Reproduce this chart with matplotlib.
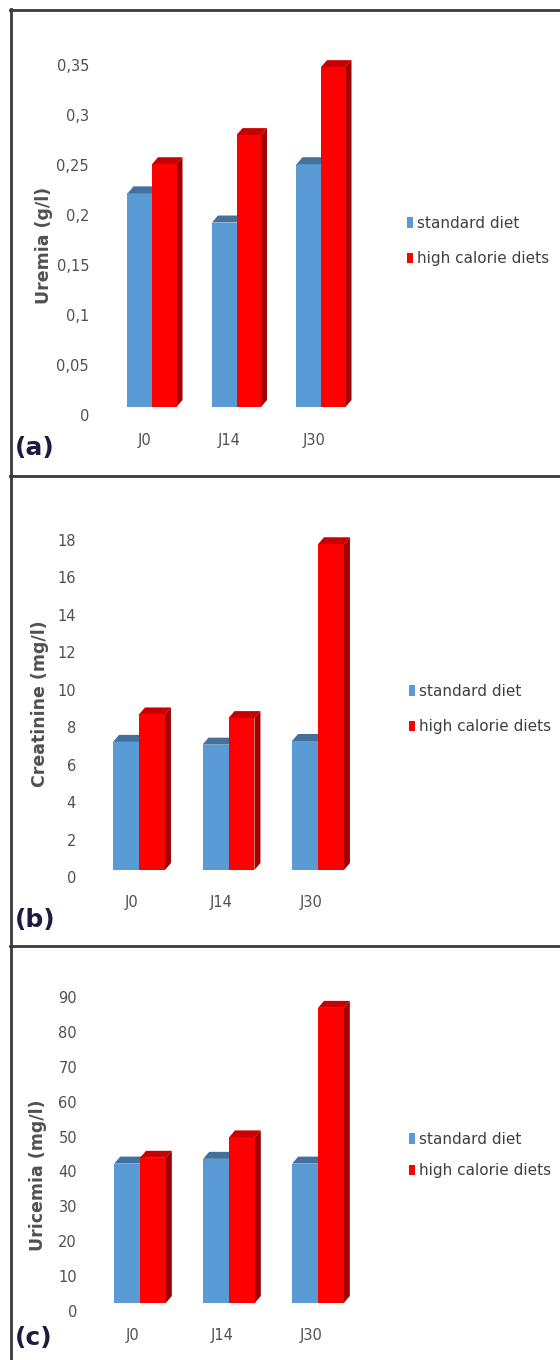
import matplotlib
matplotlib.use('Agg')
import matplotlib.pyplot as plt
import matplotlib.transforms as mtransforms
from matplotlib.patches import Polygon
from matplotlib.lines import Line2D
import numpy as np

days = ['J0', 'J14', 'J30']
series_names = ['standard diet', 'high calorie diets']

uremia_std = [0.22, 0.19, 0.25]
uremia_high = [0.25, 0.28, 0.35]
creat_std = [7.0, 6.85, 7.05]
creat_high = [8.5, 8.3, 17.8]
uric_std = [41.0, 42.4, 41.0]
uric_high = [42.7, 48.7, 86.8]

uremia_ticks = [0, 0.05, 0.1, 0.15, 0.2, 0.25, 0.3, 0.35]
uremia_ticklabels = ['0', '0,05', '0,1', '0,15', '0,2', '0,25', '0,3', '0,35']
creat_ticks = [0, 2, 4, 6, 8, 10, 12, 14, 16, 18]
uric_ticks = [0, 10, 20, 30, 40, 50, 60, 70, 80, 90]

BLUE = '#5b9bd5'
BLUE_TOP = '#41719c'
RED = '#ff0000'
RED_TOP = '#c80000'
RED_SIDE = '#a00000'
GREY = '#505050'

W, H = 560, 1360
fig = plt.figure(figsize=(W / 100, H / 100), dpi=100)


def px_axes(left, top, right, bottom):
	return fig.add_axes([left / W, 1 - bottom / H, (right - left) / W, (bottom - top) / H])


def draw_panel(p, std, high, ticks, ticklabels, ylabel, letter):
	# bars live on their own axes (front faces), tick labels sit on a "wall" axes
	left = p['c0'] - p['step']
	right = p['c0'] + 3 * p['step']
	top = p['tick_top'] - 30
	ax = px_axes(left, top, right, p['base'])
	ax.set_xlim(-1, 3)
	ax.set_ylim(0, (p['base'] - top) / p['scale'])
	ax.patch.set_visible(False)
	for s in ax.spines.values():
		s.set_visible(False)

	x = np.arange(len(days))
	w = 0.29
	dx = 6 / p['step']
	dy = 7 / p['scale']

	b1 = ax.bar(x - w, std, w, align='edge', color=BLUE, label=series_names[0], zorder=2)
	b2 = ax.bar(x, high, w, align='edge', color=RED, label=series_names[1], zorder=5)

	for xi, h in zip(x, std):
		xl, xr = xi - w, xi
		ax.add_patch(Polygon([(xl, h), (xr, h), (xr + dx, h + dy), (xl + dx, h + dy)],
							 closed=True, color=BLUE_TOP, lw=0, zorder=3))
	for xi, h in zip(x, high):
		xl, xr = xi, xi + w
		ax.add_patch(Polygon([(xl, h), (xr, h), (xr + dx, h + dy), (xl + dx, h + dy)],
							 closed=True, color=RED_TOP, lw=0, zorder=4))
		ax.add_patch(Polygon([(xr, 0), (xr + dx, dy), (xr + dx, h + dy), (xr, h)],
							 closed=True, color=RED_SIDE, lw=0, zorder=4))

	ax.set_yticks([])
	ax.set_xticks(x)
	ax.set_xticklabels(days, fontsize=10.5, color=GREY)
	ax.tick_params(axis='x', length=0, pad=(p['xlab_y'] - p['base'] - 7) * 0.72)
	shift = mtransforms.ScaledTranslation(-7 / 100, 0, fig.dpi_scale_trans)
	for lab in ax.get_xticklabels():
		lab.set_transform(lab.get_transform() + shift)

	# value axis labels
	wax = px_axes(p['tick_right'], p['tick_top'], p['tick_right'] + 4, p['tick0'])
	wax.set_ylim(0, ticks[-1])
	wax.set_yticks(ticks)
	wax.set_yticklabels(ticklabels, fontsize=10.5, color=GREY)
	wax.tick_params(axis='y', length=0, pad=0)
	wax.set_xticks([])
	wax.patch.set_visible(False)
	for s in wax.spines.values():
		s.set_visible(False)

	fig.text(p['ylab_x'] / W, 1 - p['ylab_y'] / H, ylabel, rotation=90, ha='center', va='center',
			 fontsize=12.5, fontweight='bold', color=GREY)
	fig.text(15 / W, 1 - p['letter_y'] / H, letter, ha='left', va='center',
			 fontsize=18, fontweight='bold', color='#1c1c40')

	ax.legend(handles=[b1, b2], loc='center left', bbox_to_anchor=(p['leg_x'] / W, 1 - p['leg_y'] / H),
			  bbox_transform=fig.transFigure, frameon=False, fontsize=11, labelcolor='#404040',
			  handlelength=0.4, handleheight=0.7, handletextpad=0.25, labelspacing=p['leg_space'],
			  borderpad=0, borderaxespad=0)


panel_a = dict(c0=152, step=84.5, base=407, scale=971, tick0=415, tick_top=65, tick_right=89,
			   xlab_y=440, ylab_x=44, ylab_y=245, letter_y=448, leg_x=407, leg_y=241, leg_space=1.35)
panel_b = dict(c0=139, step=89.5, base=870, scale=18.3, tick0=877, tick_top=540, tick_right=76,
			   xlab_y=902, ylab_x=40, ylab_y=704, letter_y=920, leg_x=409, leg_y=709, leg_space=1.35)
panel_c = dict(c0=140, step=89, base=1303, scale=3.40, tick0=1311, tick_top=997, tick_right=77,
			   xlab_y=1335, ylab_x=38, ylab_y=1175, letter_y=1338, leg_x=409, leg_y=1155, leg_space=1.1)

draw_panel(panel_a, uremia_std, uremia_high, uremia_ticks, uremia_ticklabels, 'Uremia (g/l)', '(a)')
draw_panel(panel_b, creat_std, creat_high, creat_ticks, [str(t) for t in creat_ticks],
		   'Creatinine (mg/l)', '(b)')
draw_panel(panel_c, uric_std, uric_high, uric_ticks, [str(t) for t in uric_ticks],
		   'Uricemia (mg/l)', '(c)')

# panel frames
frame = dict(color='#3a3a3a', lw=2, transform=fig.transFigure)
fig.add_artist(Line2D([10.5 / W, 10.5 / W], [1 - 9 / H, 0], **frame))
for yb in [9.5, 476, 946]:
	fig.add_artist(Line2D([10 / W, 1], [1 - yb / H, 1 - yb / H], **frame))

fig.savefig('out.png', dpi=100)
